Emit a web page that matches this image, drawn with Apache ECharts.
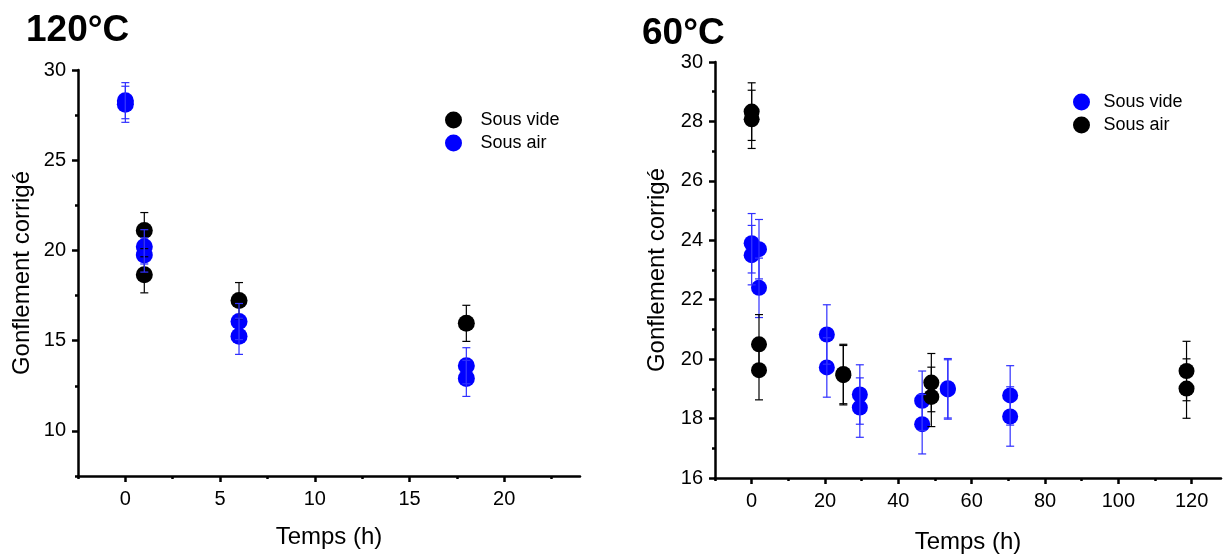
<!DOCTYPE html>
<html>
<head>
<meta charset="utf-8">
<script src="https://cdn.jsdelivr.net/npm/echarts@6/dist/echarts.min.js"></script>
<style>html,body{margin:0;padding:0;background:#fff}#c{width:1224px;height:556px}</style>
</head>
<body>
<div id="c"></div>
<script>
// ---- 120°C (left panel) ----
const left_vide_t = [1, 1, 6, 18];
const left_vide_v = [21.1, 18.65, 17.22, 15.96];
const left_vide_e = [1.0, 1.0, 1.0, 1.0];
const left_air_t = [0, 0, 1, 1, 6, 6, 18, 18];
const left_air_v = [28.3, 28.1, 20.2, 19.75, 16.06, 15.24, 13.61, 12.91];
const left_air_e = [1.0, 1.0, 0.95, 0.95, 1.0, 1.0, 1.0, 1.0];
const left_x_ticks = [0, 5, 10, 15, 20];
const left_x_minor = [-2.5, 2.5, 7.5, 12.5, 17.5, 22.5];
const left_y_ticks = [10, 15, 20, 25, 30];
const left_y_minor = [7.5, 12.5, 17.5, 22.5, 27.5];

// ---- 60°C (right panel) ----
const right_vide_t = [0, 0, 2, 2, 20.5, 20.5, 29.5, 29.5, 46.5, 46.5, 53.5, 53.5, 70.5, 70.5];
const right_vide_v = [23.9, 23.5, 23.7, 22.4, 20.83, 19.72, 18.81, 18.37, 18.6, 17.81, 19.02, 18.98, 18.78, 18.07];
const right_vide_e = [1.0, 1.0, 1.0, 1.0, 1.0, 1.0, 1.0, 1.0, 1.0, 1.0, 1.0, 1.0, 1.0, 1.0];
const right_air_t = [0, 0, 2, 2, 25, 25, 49, 49, 118.6, 118.6];
const right_air_v = [28.33, 28.07, 20.5, 19.63, 19.5, 19.46, 19.21, 18.73, 19.6, 19.01];
const right_air_e = [0.97, 0.98, 1.0, 1.0, 1.0, 1.0, 0.98, 1.0, 1.0, 1.0];
const right_x_ticks = [0, 20, 40, 60, 80, 100, 120];
const right_x_minor = [-10, 10, 30, 50, 70, 90, 110];
const right_y_ticks = [16, 18, 20, 22, 24, 26, 28, 30];
const right_y_minor = [17, 19, 21, 23, 25, 27, 29];

const BLUE = '#0000ff', BLUE_ERR = '#3030ff', BLACK = '#000000';
const FONT = '"Liberation Sans", Arial, sans-serif';

function pts(t, v) { return t.map((x, i) => [x, v[i]]); }
function errs(t, v, e) { return t.map((x, i) => [x, v[i] - e[i], v[i] + e[i]]); }
function errItem(color) {
  return function (params, api) {
    const x = api.value(0);
    const lo = api.coord([x, api.value(1)]);
    const hi = api.coord([x, api.value(2)]);
    const w = 4;
    const st = { stroke: color, lineWidth: 1.2 };
    return { type: 'group', children: [
      { type: 'line', shape: { x1: lo[0], y1: lo[1], x2: hi[0], y2: hi[1] }, style: st },
      { type: 'line', shape: { x1: lo[0] - w, y1: lo[1], x2: lo[0] + w, y2: lo[1] }, style: st },
      { type: 'line', shape: { x1: hi[0] - w, y1: hi[1], x2: hi[0] + w, y2: hi[1] }, style: st }
    ]};
  };
}
function mainX(grid, min, max, ticks, nameGap) {
  return { type: 'value', gridIndex: grid, min: min, max: max, position: 'bottom',
    axisLine: { onZero: false, lineStyle: { color: BLACK, width: 2.5 } },
    axisTick: { customValues: ticks, length: 6, lineStyle: { color: BLACK, width: 2.5 } },
    axisLabel: { customValues: ticks, fontSize: 20, color: BLACK, fontFamily: FONT, margin: 13 },
    splitLine: { show: false },
    name: 'Temps (h)', nameLocation: 'middle', nameGap: nameGap,
    nameTextStyle: { fontSize: 24, color: BLACK, fontFamily: FONT } };
}
function mainY(grid, min, max, ticks, nameGap) {
  return { type: 'value', gridIndex: grid, min: min, max: max, position: 'left',
    axisLine: { show: true, onZero: false, lineStyle: { color: BLACK, width: 2.5 } },
    axisTick: { show: true, customValues: ticks, length: 6, lineStyle: { color: BLACK, width: 2.5 } },
    axisLabel: { customValues: ticks, fontSize: 20, color: BLACK, fontFamily: FONT, margin: 12 },
    splitLine: { show: false },
    name: 'Gonflement corrigé', nameLocation: 'middle', nameGap: nameGap,
    nameTextStyle: { fontSize: 24, color: BLACK, fontFamily: FONT } };
}
function minorAxis(grid, min, max, ticks, pos) {
  return { type: 'value', gridIndex: grid, min: min, max: max, position: pos,
    axisLine: { show: false, onZero: false },
    axisTick: { show: true, customValues: ticks, length: 3, lineStyle: { color: BLACK, width: 2.5 } },
    axisLabel: { show: false }, splitLine: { show: false } };
}
function scatter(name, xi, yi, data, color, size) {
  return { type: 'scatter', name: name, xAxisIndex: xi, yAxisIndex: yi, data: data,
    symbol: 'circle', symbolSize: size, itemStyle: { color: color, opacity: 1 }, z: 2 };
}
function errSeries(name, xi, yi, data, color) {
  return { type: 'custom', name: name, xAxisIndex: xi, yAxisIndex: yi, data: data,
    renderItem: errItem(color), encode: { x: 0, y: [1, 2] }, z: 3, silent: true };
}

const chart = echarts.init(document.getElementById('c'), null, { renderer: 'canvas' });
chart.setOption({
  animation: false,
  backgroundColor: '#fff',
  textStyle: { fontFamily: FONT },
  graphic: [
    { type: 'text', left: 26, top: 12, style: { text: '120°C', font: 'bold 37px "Liberation Sans", Arial', fill: BLACK } },
    { type: 'text', left: 642, top: 15, style: { text: '60°C', font: 'bold 37px "Liberation Sans", Arial', fill: BLACK } }
  ],
  grid: [
    { left: 78, top: 70, width: 502, height: 406, outerBoundsMode: 'none', containLabel: false },
    { left: 715, top: 62, width: 506, height: 416, outerBoundsMode: 'none', containLabel: false }
  ],
  xAxis: [
    mainX(0, -2.5, 24, left_x_ticks, 49),
    minorAxis(0, -2.5, 24, left_x_minor, 'bottom'),
    mainX(1, -10, 128, right_x_ticks, 52),
    minorAxis(1, -10, 128, right_x_minor, 'bottom')
  ],
  yAxis: [
    mainY(0, 7.5, 30, left_y_ticks, 44),
    minorAxis(0, 7.5, 30, left_y_minor, 'left'),
    mainY(1, 16, 30, right_y_ticks, 46),
    minorAxis(1, 16, 30, right_y_minor, 'left')
  ],
  legend: [
    { orient: 'vertical', left: 440, top: 106, icon: 'circle', itemWidth: 44, itemHeight: 17, itemGap: 5,
      textStyle: { fontSize: 18, color: BLACK, fontFamily: FONT },
      data: [{ name: 'Sous vide', itemStyle: { color: BLACK } }, { name: 'Sous air', itemStyle: { color: BLUE } }] },
    { orient: 'vertical', left: 1068, top: 88, icon: 'circle', itemWidth: 34, itemHeight: 17, itemGap: 5,
      textStyle: { fontSize: 18, color: BLACK, fontFamily: FONT },
      data: [{ name: 'Sous vide', itemStyle: { color: BLUE } }, { name: 'Sous air', itemStyle: { color: BLACK } }] }
  ],
  series: [
    scatter('Sous vide', 0, 0, pts(left_vide_t, left_vide_v), BLACK, 17),
    scatter('Sous air', 0, 0, pts(left_air_t, left_air_v), BLUE, 17),
    errSeries('Sous vide', 0, 0, errs(left_vide_t, left_vide_v, left_vide_e), BLACK),
    errSeries('Sous air', 0, 0, errs(left_air_t, left_air_v, left_air_e), BLUE_ERR),
    scatter('Sous vide', 2, 2, pts(right_vide_t, right_vide_v), BLUE, 16),
    scatter('Sous air', 2, 2, pts(right_air_t, right_air_v), BLACK, 16),
    errSeries('Sous vide', 2, 2, errs(right_vide_t, right_vide_v, right_vide_e), BLUE_ERR),
    errSeries('Sous air', 2, 2, errs(right_air_t, right_air_v, right_air_e), BLACK)
  ]
});
</script>
</body>
</html>
